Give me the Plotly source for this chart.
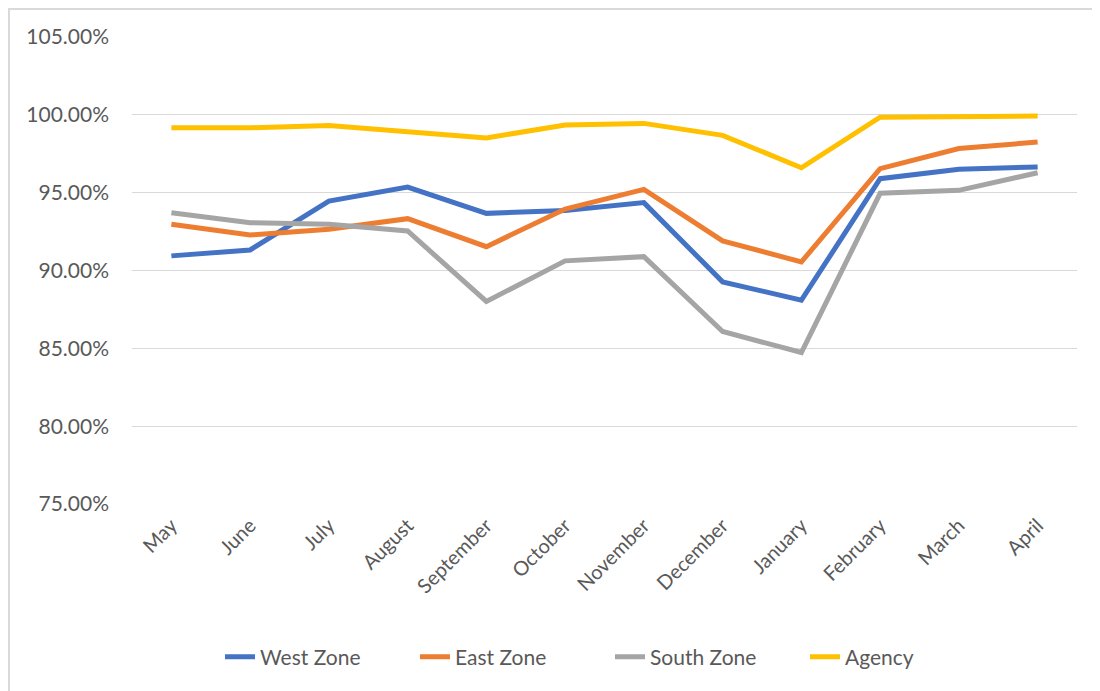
import plotly.graph_objects as go

months = ["May", "June", "July", "August", "September", "October", "November",
          "December", "January", "February", "March", "April"]

west_zone = [90.94, 91.32, 94.46, 95.36, 93.67, 93.85, 94.36, 89.27, 88.09, 95.90, 96.50, 96.65]
east_zone = [92.97, 92.28, 92.65, 93.33, 91.53, 93.95, 95.21, 91.90, 90.55, 96.54, 97.84, 98.25]
south_zone = [93.71, 93.07, 92.97, 92.54, 88.01, 90.62, 90.89, 86.08, 84.73, 94.96, 95.15, 96.28]
agency = [99.17, 99.17, 99.32, 98.91, 98.52, 99.34, 99.45, 98.68, 96.60, 99.85, 99.85, 99.92]

series = [
    ("West Zone", west_zone, "#4472C4"),
    ("East Zone", east_zone, "#ED7D31"),
    ("South Zone", south_zone, "#A5A5A5"),
    ("Agency", agency, "#FFC000"),
]

# page has an 8px body margin; target positions below are in page pixels
OFF = 8
W, H = 1100 - OFF, 691 - OFF
PL, PR, PT, PB = 132, 1077, 37, 504          # plot area in page pixels
L, T = PL - OFF, PT - OFF
R, B = W - (PR - OFF), H - (PB - OFF)
pw, ph = PR - PL, PB - PT

def px_x(p):
    return (p - PL) / pw

def px_y(p):
    return (PB - p) / ph

FONT = "Lato, Carlito, Calibri, sans-serif"
TXT = "#595959"

fig = go.Figure()
for name, vals, color in series:
    fig.add_trace(go.Scatter(
        x=months, y=[v / 100 for v in vals], name=name, mode="lines",
        line=dict(color=color, width=5, shape="linear"),
    ))

fig.update_layout(
    width=W, height=H,
    margin=dict(l=L, r=R, t=T, b=B, pad=0),
    paper_bgcolor="white", plot_bgcolor="white",
    font=dict(family=FONT, size=21, color=TXT),
    showlegend=True,
    legend=dict(
        orientation="h", x=px_x(610), y=px_y(657), xanchor="center", yanchor="middle",
        font=dict(family=FONT, size=21, color=TXT),
        itemwidth=30, entrywidth=150, entrywidthmode="pixels",
        bgcolor="rgba(0,0,0,0)",
    ),
    xaxis=dict(
        type="category", tickangle=-45, showgrid=False, zeroline=False,
        showline=False, ticks="", tickfont=dict(family=FONT, size=20, color=TXT),
        range=[-0.5, len(months) - 0.5], ticklabelstandoff=5,
    ),
    yaxis=dict(
        range=[0.75, 1.05], dtick=0.05, tick0=0.75, tickformat=".2%",
        showgrid=True, gridcolor="#D9D9D9", gridwidth=1.3, zeroline=False,
        showline=False, ticks="", ticklabelstandoff=22,
        tickfont=dict(family=FONT, size=21, color=TXT),
    ),
    shapes=[dict(
        type="rect", xref="paper", yref="paper",
        x0=px_x(9), x1=px_x(1110), y0=px_y(702), y1=px_y(9),
        line=dict(color="#D9D9D9", width=2), fillcolor="rgba(0,0,0,0)", layer="below",
    )],
)

fig.write_html("out.html")
